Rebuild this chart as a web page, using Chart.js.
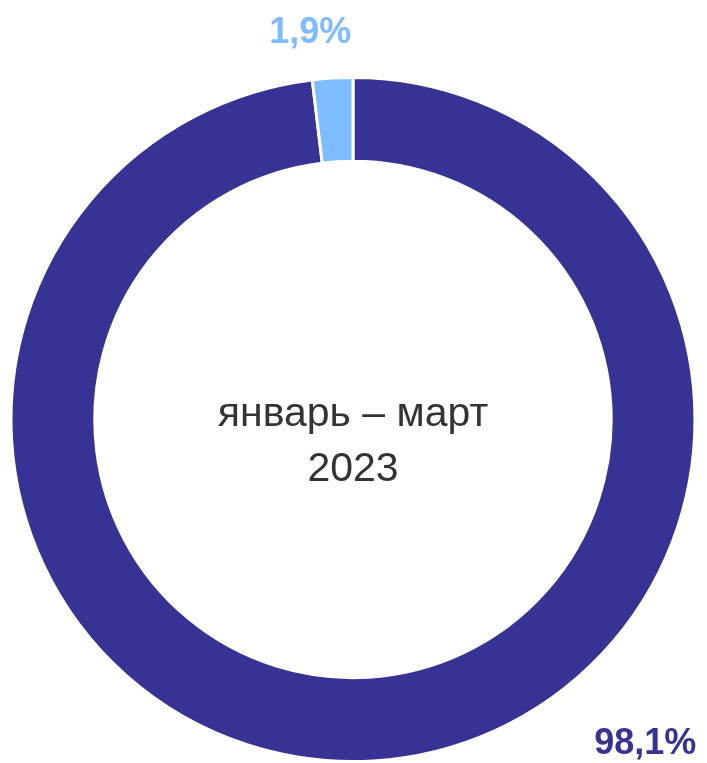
<!DOCTYPE html>
<html>
<head>
<meta charset="utf-8">
<script src="https://cdn.jsdelivr.net/npm/chart.js@4.4.0/dist/chart.umd.min.js"></script>
<style>
  html, body { margin: 0; padding: 0; background: #ffffff; }
  #wrap { width: 707px; height: 763px; position: relative; }
</style>
</head>
<body>
<div id="wrap"><canvas id="chart"></canvas></div>
<script>
// data
const categories = ['Прочее', 'Основное'];
const shares = [98.1, 1.9];
const shareLabels = ['98,1%', '1,9%'];
const sliceColors = ['#363394', '#7fbbff'];
const centerLines = ['январь – март', '2023'];

// where each outside label sits: angle from 12 o'clock (deg), distance in outer radii
const labelAnchors = [
    { angle: 138, dist: 1.277 },
    { angle: -6.3, dist: 1.137 }
];

const labelPlugin = {
    id: 'sliceLabels',
    afterDatasetsDraw(chart) {
        const ctx = chart.ctx;
        const arcs = chart.getDatasetMeta(0).data;
        ctx.save();
        ctx.font = 'bold 36px "Liberation Sans", Arial, sans-serif';
        ctx.textAlign = 'center';
        ctx.textBaseline = 'middle';
        arcs.forEach((arc, i) => {
            const a = labelAnchors[i].angle * Math.PI / 180;
            const r = arc.outerRadius * labelAnchors[i].dist;
            ctx.fillStyle = sliceColors[i];
            ctx.fillText(shareLabels[i], arc.x + r * Math.sin(a), arc.y - r * Math.cos(a));
        });

        // center caption
        const c = arcs[0];
        ctx.font = '41px "Liberation Sans", Arial, sans-serif';
        ctx.fillStyle = '#333333';
        ctx.textBaseline = 'alphabetic';
        ctx.fillText(centerLines[0], c.x, c.y + 6);
        ctx.fillText(centerLines[1], c.x, c.y + 61);
        ctx.restore();
    }
};

new Chart(document.getElementById('chart'), {
    type: 'doughnut',
    data: {
        labels: categories,
        datasets: [{
            data: shares,
            backgroundColor: sliceColors,
            borderColor: '#ffffff',
            borderWidth: 3,
            hoverOffset: 0
        }]
    },
    options: {
        responsive: true,
        maintainAspectRatio: false,
        animation: false,
        cutout: '75.5%',
        layout: { padding: { left: 8, right: 9, top: 76, bottom: -3 } },
        plugins: {
            legend: { display: false },
            tooltip: { enabled: false }
        }
    },
    plugins: [labelPlugin]
});
</script>
</body>
</html>
